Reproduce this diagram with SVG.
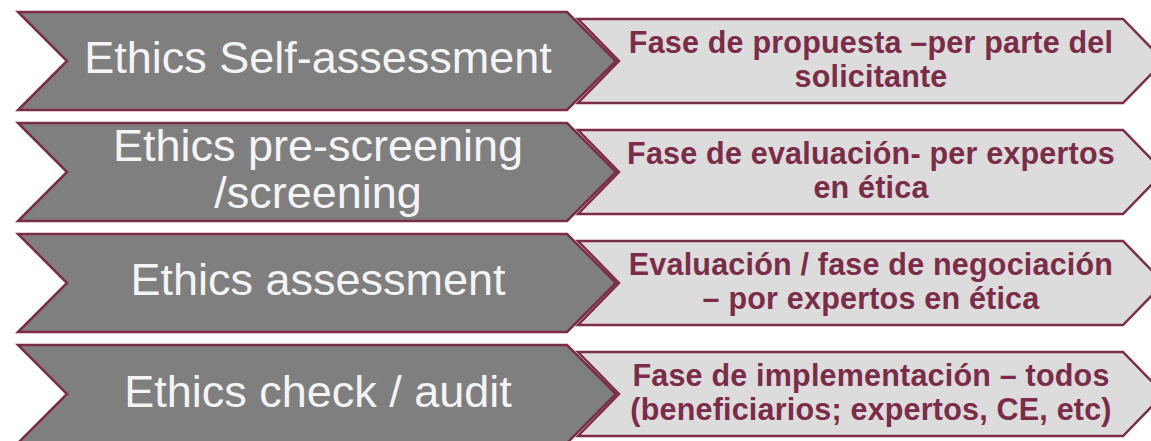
<svg xmlns="http://www.w3.org/2000/svg" width="1151" height="441" viewBox="0 0 1151 441">
<defs>
<style>
.dark{fill:#7f7f7f;stroke:#7b2c48;stroke-width:2.5;stroke-linejoin:miter}
.light{fill:#dcdcdc;stroke:#7b2c48;stroke-width:2.5;stroke-linejoin:miter}
.dt{font-family:"Liberation Sans",Arial,sans-serif;font-size:45px;fill:#f4f4f4;text-anchor:middle}
.lt{font-family:"Liberation Sans",Arial,sans-serif;font-size:30.5px;font-weight:bold;fill:#7b2c48;text-anchor:middle;letter-spacing:0.2px}
</style>
</defs>
<rect width="1151" height="441" fill="#ffffff"/>
<g id="row1">
<g id="n1a"><polygon class="dark" points="18,12 567,12 616,61 567,110 18,110 67,61"/>
<text class="dt" x="318" y="73">Ethics Self-assessment</text></g>
<g id="n1b"><polygon class="light" points="578,19 1123,19 1164,61 1123,103 578,103 619,61"/>
<text class="lt" x="871" y="53">Fase de propuesta –per parte del</text>
<text class="lt" x="871" y="87">solicitante</text></g>
</g>
<g id="row2">
<g id="n2a"><polygon class="dark" points="18,123 567,123 616,172 567,221 18,221 67,172"/>
<text class="dt" x="318" y="161">Ethics pre-screening</text>
<text class="dt" x="318" y="208">/screening</text></g>
<g id="n2b"><polygon class="light" points="578,130 1123,130 1164,172 1123,214 578,214 619,172"/>
<text class="lt" x="871" y="164">Fase de evaluación- per expertos</text>
<text class="lt" x="871" y="198">en ética</text></g>
</g>
<g id="row3">
<g id="n3a"><polygon class="dark" points="18,234 567,234 616,283 567,332 18,332 67,283"/>
<text class="dt" x="318" y="295">Ethics assessment</text></g>
<g id="n3b"><polygon class="light" points="578,241 1123,241 1164,283 1123,325 578,325 619,283"/>
<text class="lt" x="871" y="275">Evaluación / fase de negociación</text>
<text class="lt" x="871" y="309">– por expertos en ética</text></g>
</g>
<g id="row4">
<g id="n4a"><polygon class="dark" points="18,345 567,345 616,394 567,443 18,443 67,394"/>
<text class="dt" x="318" y="407">Ethics check / audit</text></g>
<g id="n4b"><polygon class="light" points="578,352 1123,352 1164,394 1123,436 578,436 619,394"/>
<text class="lt" x="871" y="386">Fase de implementación – todos</text>
<text class="lt" x="871" y="420">(beneficiarios; expertos, CE, etc)</text></g>
</g>
<g id="connectors"></g>
</svg>
